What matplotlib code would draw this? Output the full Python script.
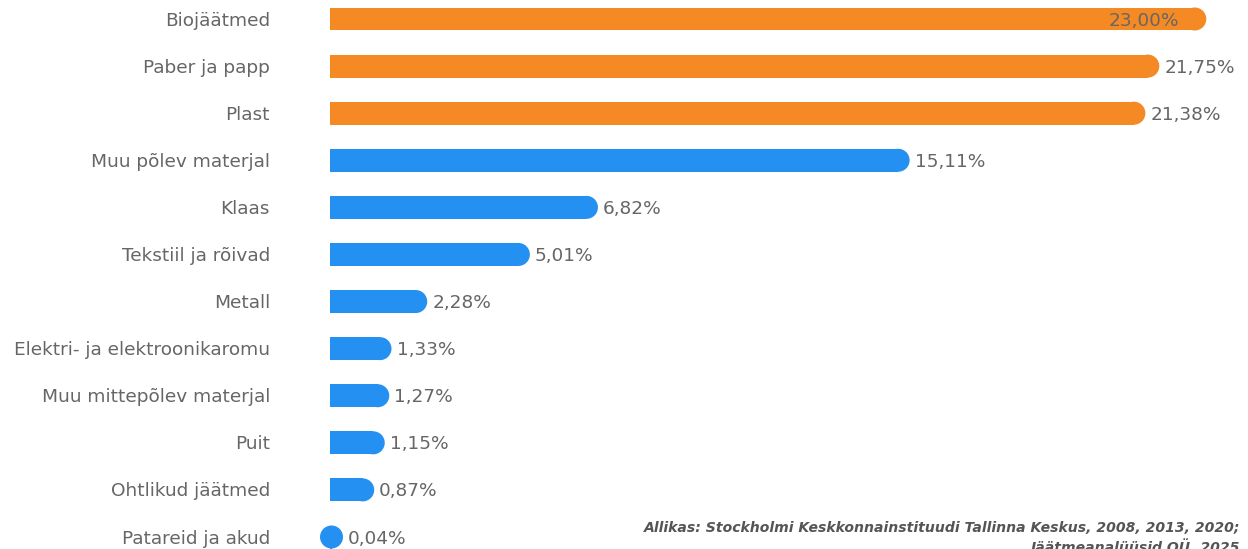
import matplotlib
matplotlib.use("Agg")
import matplotlib.pyplot as plt
from matplotlib.patches import Ellipse

plt.rcParams["font.family"] = ["DejaVu Sans"]

categories = ["Biojäätmed", "Paber ja papp", "Plast", "Muu põlev materjal", "Klaas",
              "Tekstiil ja rõivad", "Metall", "Elektri- ja elektroonikaromu",
              "Muu mittepõlev materjal", "Puit", "Ohtlikud jäätmed", "Patareid ja akud"]
values = [23.00, 21.75, 21.38, 15.11, 6.82, 5.01, 2.28, 1.33, 1.27, 1.15, 0.87, 0.04]
highlight = [True, True, True, False, False, False, False, False, False, False, False, False]
value_labels = ["23,00%", "21,75%", "21,38%", "15,11%", "6,82%", "5,01%", "2,28%",
                "1,33%", "1,27%", "1,15%", "0,87%", "0,04%"]
source_text = "Allikas: Stockholmi Keskkonnainstituudi Tallinna Keskus, 2008, 2013, 2020;\nJäätmeanalüüsid OÜ, 2025"

ORANGE = "#F58A25"
BLUE = "#2491F2"
TEXT = "#666666"
FS = 13.3

W, H, DPI = 1248, 549, 100
fig = plt.figure(figsize=(W / DPI, H / DPI), dpi=DPI)
ax_left_px = 330
px_per_unit = 37.6
xmax = 24.0
ax = fig.add_axes([ax_left_px / W, 0, xmax * px_per_unit / W, 1])
row_px = 518 / 11
ax.set_xlim(0, xmax)
ax.set_ylim(11 + 12 / row_px, -19 / row_px)
ax.axis("off")

bar_h_px = 23
bar_h = bar_h_px / row_px
cap_w = bar_h_px / px_per_unit
dy = 1.5 / row_px

for i, (cat, v, hl, lab) in enumerate(zip(categories, values, highlight, value_labels)):
    c = ORANGE if hl else BLUE
    ax.barh(i, v, height=bar_h, color=c, linewidth=0)
    ax.add_patch(Ellipse((v, i), cap_w, bar_h, color=c, linewidth=0, clip_on=False))
    end = v + (bar_h_px / 2) / px_per_unit
    if i == 0:
        ax.text(end - 27 / px_per_unit, i + dy, lab, ha="right", va="center", fontsize=FS, color=TEXT)
    else:
        ax.text(end + 5 / px_per_unit, i + dy, lab, ha="left", va="center", fontsize=FS, color=TEXT)
    ax.text(-60 / px_per_unit, i + dy, cat, ha="right", va="center", fontsize=FS, color=TEXT, clip_on=False)

fig.text(1240 / W, 1 - 521 / H, source_text, ha="right", va="top", fontsize=10.1,
         fontweight="bold", fontstyle="italic", color="#555555", linespacing=1.25)

fig.savefig("out.png", dpi=DPI, facecolor="white")
